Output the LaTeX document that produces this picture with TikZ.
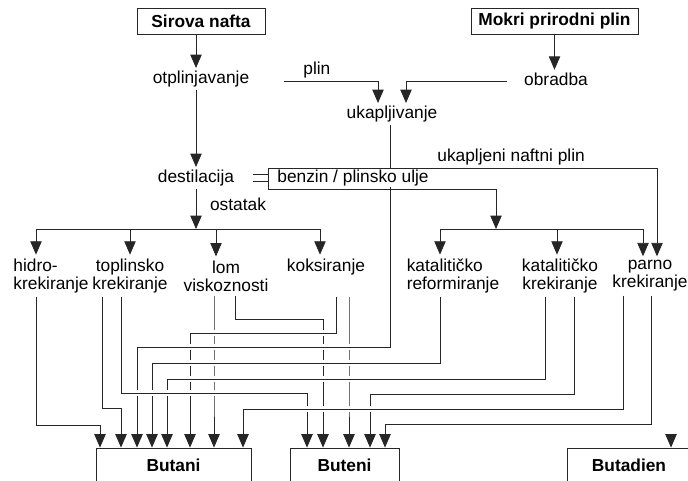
\documentclass[tikz,border=0pt]{standalone}
\usepackage{fontspec}
\setmainfont{Liberation Sans}
\usetikzlibrary{arrows.meta}
\tikzset{
  tekst/.style={inner xsep=1pt,inner ysep=2pt,font=\fontsize{13}{13.5}\selectfont},
  proces/.style={tekst,align=center,inner ysep=3pt},
  izvor/.style={draw=black!85,line width=0.65pt,font=\fontsize{13}{13.5}\selectfont\bfseries,minimum height=19.5pt,inner sep=0pt},
  produkt/.style={izvor,minimum height=25.5pt},
  linija/.style={draw=black!85,line width=0.6pt},
  veza/.style={linija,->},
  praznina/.style={draw=white,line width=4pt,shorten <=3pt,shorten >=3pt}
}
\begin{document}
\begin{tikzpicture}[>={Triangle[length=10pt,width=8.5pt]},x=0.75pt,y=-0.75pt]
		\useasboundingbox (0,0) rectangle (688,480);
		\clip (0,0) rectangle (688,480);
		% sirovine
		\node[izvor,minimum width=96pt] (nafta) at (201,21) {Sirova nafta};
		\node[izvor,minimum width=125.25pt] (mokri) at (554.5,21) {Mokri prirodni plin};
		\node[tekst] (otpl) at (201,79) {otplinjavanje};
		\node[tekst] (obr) at (556,79) {obradba};
		\node[tekst] (ukap) at (392,114) {ukapljivanje};
		\node[tekst] (dest) at (196,178) {destilacija};
		\node[tekst] (ost) at (238,204) {ostatak};
		% procesi
		\node[proces,align=left] (hidro) at (51,276) {hidro-\\krekiranje};
		\node[proces] (topl) at (130,276) {toplinsko\\krekiranje};
		\node[proces] (lom) at (226,276) {lom\\viskoznosti};
		\node[proces] (koks) at (326,276) {koksiranje\\\phantom{krekiranje}};
		\node[proces,align=left] (katref) at (453,276) {katalitičko\\reformiranje};
		\node[proces] (katkrek) at (560,276) {katalitičko\\krekiranje};
		\node[proces] (parno) at (650,276) {parno\\krekiranje};
		% produkti
		\node[produkt,minimum width=116.25pt] (butani) at (173.5,465) {Butani};
		\node[produkt,minimum width=81.75pt] (buteni) at (344.5,465) {Buteni};
		\node[produkt,minimum width=93pt] (butadien) at (629,465) {Butadien};
		\coordinate (plin0) at (284,81);
		\coordinate (obr0) at (507,81);
		\coordinate (lpg) at (268,168);
		\coordinate (benz) at (268,189);
		\coordinate (bd) at (671,434);
		\draw[veza] (nafta.south -| dest) -- (otpl.north -| dest);
		\draw[veza] (otpl.south -| dest) -- (dest);
		\draw[veza] (mokri.south) -- (mokri.south |- obr.north);
		\draw[veza] (plin0) -| ([xshift=-10.5pt]ukap.north) node[tekst,pos=0.175,above] {plin};
		\draw[veza] (obr0) -| ([xshift=10.5pt]ukap.north);
		% destilacija -> ostatak
		\draw[veza] (dest) -- (dest |- 0,229);
		\draw[linija] (36,229) -- (320,229);
		\foreach \x/\n in {36/hidro,130/topl,216/lom,320/koks}
			\draw[veza] (\x,229) -- (\x,0 |- \n.north);
		% destilacija -> benzin, UNP
		\draw[linija] (253,174) -- (268,174) (253,181) -- (268,181) (lpg) -- (benz);
		\draw[veza] (lpg) -| (657,0 |- parno.north) node[tekst,pos=0.3125,above] {ukapljeni naftni plin};
		\draw[veza] (benz) -| (496,229);
		\draw[linija] (440,229) -- (643,229);
		\foreach \x/\n in {440/katref,557/katkrek,643/parno}
			\draw[veza] (\x,229) -- (\x,0 |- \n.north);
		% procesi -> produkti
		\def\spojevi{36/hidro/425/100/butani, 102/topl/408/121/butani, 121/topl/393/307/buteni,
			214/lom/400/214/butani, 235/lom/319/323/buteni, 336/koks/333/190/butani,
			349/koks/400/349/buteni, 390/ukap/347/137/butani, 440/katref/363/152/butani,
			545/katkrek/379/167/butani, 574/katkrek/394/370/buteni, 623/parno/409/243/butani,
			651/parno/424/385/buteni}
		\foreach \x/\n/\h/\e/\b in \spojevi
			\draw[veza] (\x,0 |- \n.south) |- (\e,\h) -- (\e,0 |- \b.north);
		\foreach \x/\n/\h/\e/\b in \spojevi {\ifnum\x=\e\else\draw[praznina] (\x,\h) -- (\e,\h);\fi}
		\foreach \x/\n/\h/\e/\b in \spojevi {\ifnum\x=\e\else\draw[linija] (\x,\h) -- (\e,\h);\fi}
		\draw[veza] (bd) -- (bd |- butadien.north);
		\node[tekst,fill=white,inner ysep=1pt] (benzlbl) at (353,178) {benzin / plinsko ulje};
		\end{tikzpicture}
\end{document}
